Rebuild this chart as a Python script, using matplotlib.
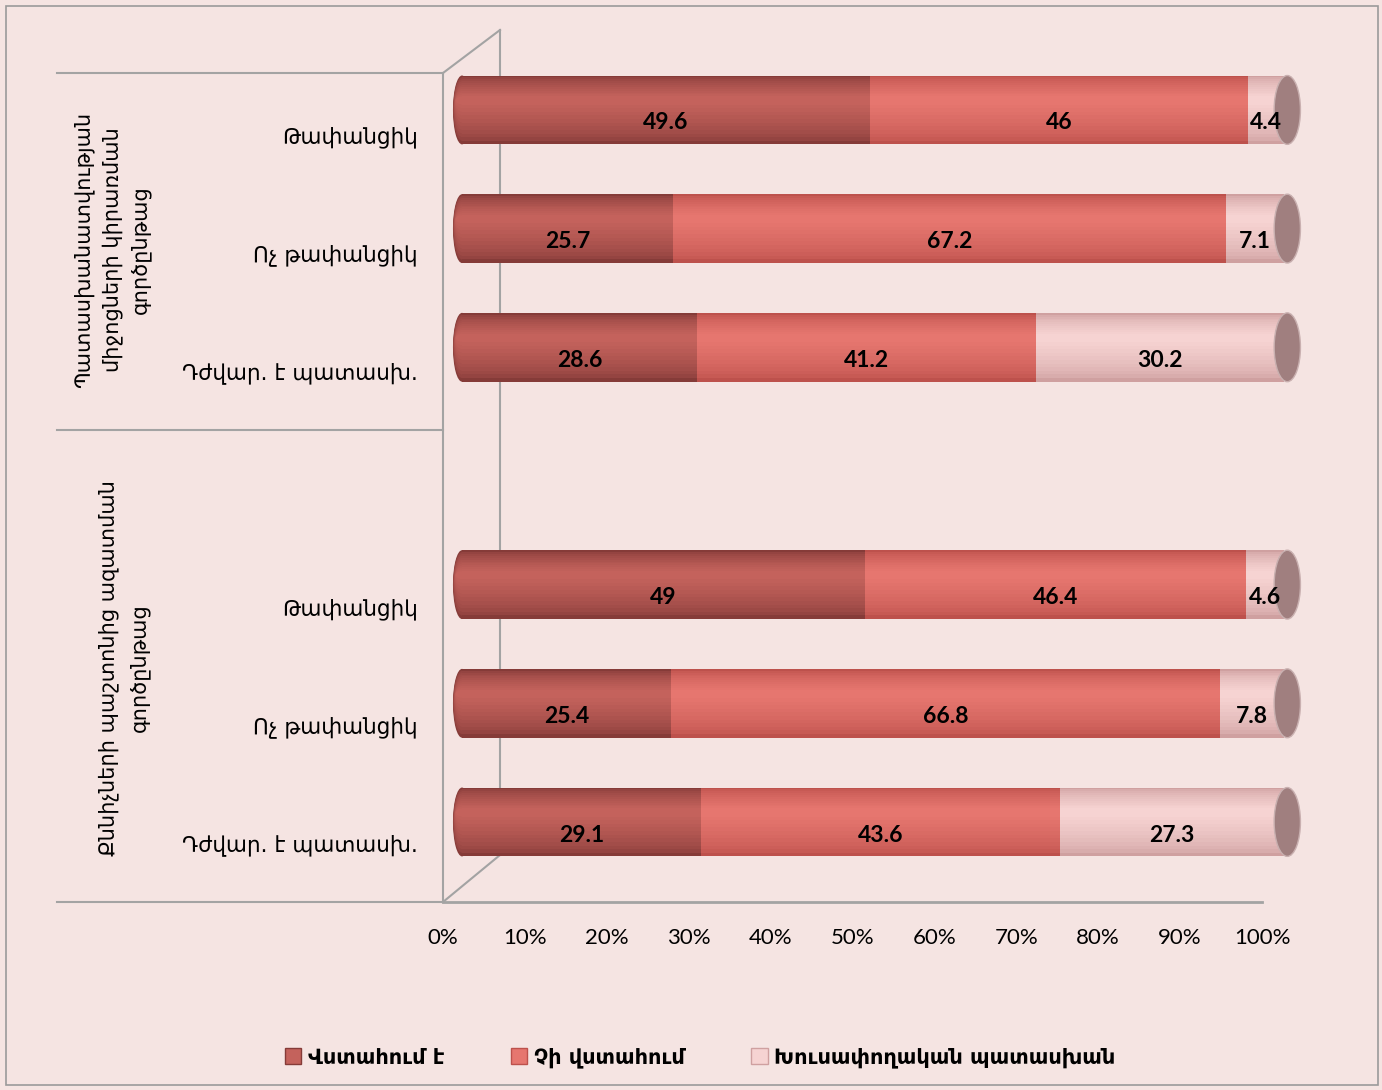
import numpy as np
import matplotlib
matplotlib.use('Agg')
import matplotlib.pyplot as plt
from matplotlib.patches import Ellipse, Patch, Rectangle
from matplotlib.lines import Line2D
from matplotlib.colors import to_rgb

# data
groups = ['Պատասխանատվության\nմիջոցների կիրառման\nգործընթաց',
          'Քննիչների պաշտոնից ազատման\nգործընթաց']
cats = ['Թափանցիկ', 'Ոչ թափանցիկ', 'Դժվար. է պատասխ.']
series = ['Վստահում է', 'Չի վստահում', 'Խուսափողական պատասխան']
trust = [49.6, 25.7, 28.6, 49.0, 25.4, 29.1]
distrust = [46.0, 67.2, 41.2, 46.4, 66.8, 43.6]
evasive = [4.4, 7.1, 30.2, 4.6, 7.8, 27.3]
xticks = [0, 10, 20, 30, 40, 50, 60, 70, 80, 90, 100]

# colours: (edge/dark, centre/light)
cols = [('#853b38', '#c4625c'), ('#bd514c', '#e6766f'), ('#cfa0a0', '#f6d3d2')]
cap_col = '#a07f7f'
bg = '#f5e4e2'
line_col = '#a3a3a3'

W, H = 1382, 1090
fig = plt.figure(figsize=(W / 100, H / 100), dpi=100, facecolor=bg)


def fx(px):
    return px / W


def fy(py):
    return 1 - py / H


# figure border
fig.add_artist(Rectangle((fx(6), fy(1085)), fx(1372), 1079 / H, transform=fig.transFigure,
                         fill=False, edgecolor='#9a9a9a', lw=1.2))

# bar axes: slot 0 centred at y=110 px, slot 6 at y=822 px
ax = fig.add_axes([fx(462), fy(881.3), fx(822), 830.7 / H])
ax.set_facecolor('none')
ax.set_xlim(0, 100)
ax.set_ylim(6.5, -0.5)
ax.axis('off')

ypos = [0, 1, 2, 4, 5, 6]
h = 0.58


def blend(c1, c2, t):
    a, b = np.array(to_rgb(c1)), np.array(to_rgb(c2))
    return a + (b - a) * t


vals = [trust, distrust, evasive]
n_layers = 12
for i, y in enumerate(ypos):
    left = 0
    for s in range(3):
        v = vals[s][i]
        for k in range(n_layers):
            t = k / (n_layers - 1)
            hh = h * (1 - 0.88 * t)
            yc = y - 0.08 * t
            c = blend(cols[s][0], cols[s][1], t ** 0.6)
            ax.barh(yc, v, height=hh, left=left, color=c, edgecolor='none', zorder=2 + k * 0.01)
            if s == 0:
                # rounded left end, shaded like the bar
                ax.add_patch(Ellipse((0, yc), 2.2 * (1 - 0.3 * t), hh, facecolor=c,
                                     edgecolor='none', zorder=1 + k * 0.01, clip_on=False))
        ax.text(left + v / 2, y + 0.11, '%g' % v, ha='center', va='center', fontsize=16.5,
                fontweight='bold', family=['Lato', 'DejaVu Sans'], color='black', zorder=5)
        left += v
    # right end cap
    ax.add_patch(Ellipse((100.4, y), 3.2, h, facecolor=cap_col, edgecolor='#c9b0b0', lw=1,
                         zorder=4, clip_on=False))

# tick axes (front floor edge)
tax = fig.add_axes([fx(443), fy(902), fx(819), 1 / H])
tax.set_facecolor('none')
tax.set_xlim(0, 100)
tax.set_yticks([])
for sp in ['top', 'left', 'right']:
    tax.spines[sp].set_visible(False)
tax.spines['bottom'].set_color(line_col)
tax.spines['bottom'].set_linewidth(2)
tax.set_xticks(xticks)
tax.set_xticklabels(['%d%%' % t for t in xticks], family=['Lato', 'DejaVu Sans'], fontsize=16)
tax.tick_params(axis='x', length=0, pad=19)


def fline(x0, y0, x1, y1, lw=1.5):
    fig.add_artist(Line2D([fx(x0), fx(x1)], [fy(y0), fy(y1)], transform=fig.transFigure,
                          color=line_col, lw=lw, zorder=0))


# left table lines
fline(57, 73, 443, 73)
fline(57, 430, 443, 430)
fline(57, 902, 443, 902)
fline(443, 73, 443, 902)
# 3D wall
fline(443, 73, 500, 30)
fline(500, 30, 500, 855)
fline(500, 855, 443, 902)

# category labels
cat_y = [137, 255, 373, 609, 727, 845]
for i, y in enumerate(cat_y):
    fig.text(fx(418), fy(y), cats[i % 3], ha='right', va='center', fontsize=15.5,
             family='DejaVu Sans', color='black')

# group labels
fig.text(fx(112), fy(250), groups[0], rotation=90, ha='center', va='center', fontsize=15,
         family='DejaVu Sans', multialignment='center', linespacing=1.45)
fig.text(fx(124), fy(668), groups[1], rotation=90, ha='center', va='center', fontsize=15,
         family='DejaVu Sans', multialignment='center', linespacing=1.6)

# legend
handles = [Patch(facecolor=cols[s][1], edgecolor=cols[s][0], lw=1) for s in range(3)]
leg = fig.legend(handles, series, loc='center', bbox_to_anchor=(fx(700), fy(1058)), ncol=3,
                 frameon=False, prop={'family': 'DejaVu Sans', 'weight': 'bold', 'size': 15},
                 handlelength=0.8, handleheight=0.8, handletextpad=0.3, columnspacing=3.2)

fig.savefig('out.png', dpi=100, facecolor=bg)
